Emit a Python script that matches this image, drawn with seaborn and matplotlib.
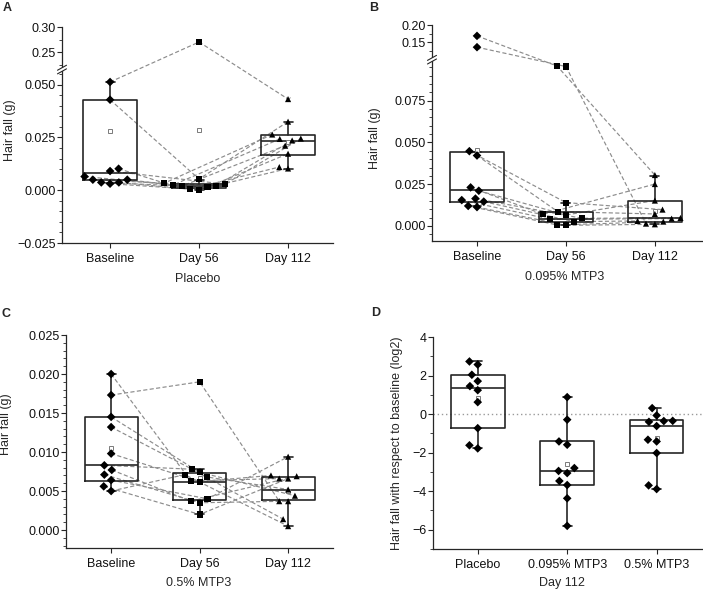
import matplotlib
matplotlib.use("Agg")
import matplotlib.pyplot as plt
import matplotlib.ticker as mticker
from matplotlib.patches import Rectangle
import numpy as np
import pandas as pd
import seaborn as sns

# ---- data ----
visits = ["Baseline", "Day 56", "Day 112"]
groups = ["Placebo", "0.095% MTP3", "0.5% MTP3"]

# hair fall (g) per subject, same subject order in every visit
placebo_base = [0.0513, 0.0429, 0.0102, 0.0091, 0.0065, 0.0050, 0.0050, 0.0037, 0.0037, 0.0031]
placebo_d56 = [0.2700, 0.0053, 0.0034, 0.0029, 0.0025, 0.0022, 0.0020, 0.0015, 0.0005, 0.0003]
placebo_d112 = [0.0432, 0.0325, 0.0264, 0.0245, 0.0243, 0.0236, 0.0211, 0.0173, 0.0110, 0.0103]

low_base = [0.1686, 0.1360, 0.0448, 0.0422, 0.0231, 0.0211, 0.0164, 0.0155, 0.0146, 0.0120, 0.0113]
low_d56 = [0.0958, 0.0955, 0.0140, 0.0086, 0.0070, 0.0066, 0.0046, 0.0040, 0.0026, 0.0006, 0.0004]
low_d112 = [0.0305, 0.0014, 0.0098, 0.0072, 0.0251, 0.0152, 0.0048, 0.0044, 0.0030, 0.0026, 0.0010]

high_base = [0.0200, 0.0173, 0.0145, 0.0132, 0.0098, 0.0083, 0.0077, 0.0071, 0.0064, 0.0056, 0.0050]
high_d56 = [0.0063, 0.0190, 0.0074, 0.0068, 0.0062, 0.0078, 0.0037, 0.0035, 0.0040, 0.0020, 0.0071]
high_d112 = [0.0066, 0.0037, 0.0044, 0.0052, 0.0070, 0.0014, 0.0069, 0.0037, 0.0094, 0.0066, 0.0005]

# log2 change vs baseline at day 112
d112_placebo = [2.73, 2.57, 2.04, 1.71, 1.45, 1.24, 0.62, -0.73, -1.62, -1.78]
d112_low = [0.88, -0.29, -1.42, -1.59, -2.80, -2.95, -3.06, -3.47, -3.68, -4.37, -5.80]
d112_high = [0.31, -0.07, -0.35, -0.36, -0.40, -0.62, -1.33, -1.42, -2.02, -3.70, -3.89]

# box summaries: whisker low, q1, median, q3, whisker high, mean
placebo_box = [[0.0035, 0.0050, 0.0080, 0.0429, 0.0513, 0.0282],
               [0.0003, 0.0013, 0.0021, 0.0031, 0.0050, 0.0287],
               [0.0103, 0.0168, 0.0235, 0.0262, 0.0322, 0.0228]]
placebo_out = [[], [0.2700], [0.0432]]
low_box = [[0.0119, 0.0145, 0.0215, 0.0446, 0.0446, 0.0456],
           [0.0004, 0.0026, 0.0044, 0.0083, 0.0139, 0.0140],
           [0.0010, 0.0026, 0.0046, 0.0151, 0.0301, 0.0090]]
low_out = [[0.1686, 0.1360], [0.0958, 0.0955], []]
high_box = [[0.0050, 0.0063, 0.0083, 0.0145, 0.0200, 0.0105],
            [0.0021, 0.0038, 0.0062, 0.0073, 0.0078, 0.0067],
            [0.0005, 0.0038, 0.0051, 0.0068, 0.0094, 0.0050]]
high_out = [[], [0.0190], []]
d112_box = [[-1.78, -0.73, 1.33, 2.04, 2.73, 0.81],
            [-5.80, -3.66, -2.94, -1.41, 0.88, -2.59],
            [-3.89, -2.02, -0.60, -0.33, 0.31, -1.26]]
d112_out = [[], [], []]

# ---- style ----
sns.set_style("ticks")
plt.rcParams["font.family"] = ["Liberation Sans", "DejaVu Sans"]
plt.rcParams["font.size"] = 9

INK = "#262626"
LINK = "#8c8c8c"
W, H = 703, 591
# invisible edge widens the swarm spacing without growing the markers
SWARM = dict(color="black", size=4.4, linewidth=1.7, edgecolor="none", zorder=3)


def broken_scale(b0, b1, gap, k):
    """Piecewise linear y scale: values above b1 are squeezed by k."""
    xp = np.array([-10.0, b0, b1, 10.0])
    fp = np.array([-10.0, b0, b0 + gap, b0 + gap + (10.0 - b1) * k])
    return (lambda v: np.interp(v, xp, fp)), (lambda v: np.interp(v, fp, xp))


def draw_boxes(ax, boxes, outliers):
    stats = []
    for (lo, q1, med, q3, hi, mean), fl in zip(boxes, outliers):
        stats.append(dict(whislo=lo, q1=q1, med=med, q3=q3, whishi=hi, mean=mean, fliers=fl))
    line = dict(color=INK, linewidth=1.2)
    ax.bxp(stats, positions=range(len(stats)), widths=0.6, capwidths=0.1,
           showmeans=True, manage_ticks=False, zorder=2,
           boxprops=line, whiskerprops=line, capprops=line, medianprops=line,
           meanprops=dict(marker="s", markersize=3, markerfacecolor="white",
                          markeredgecolor="#7a7a7a", markeredgewidth=0.7),
           flierprops=dict(marker="x", markersize=3.5, markeredgecolor="#8a8a8a",
                           markeredgewidth=0.7))


def swarm(ax, cat, order, values, marker):
    df = pd.DataFrame({"cat": cat, "val": values})
    before = list(ax.collections)
    sns.swarmplot(data=df, x="cat", y="val", order=order, marker=marker, ax=ax, **SWARM)
    # seaborn may add empty collections for the other categories
    new = [c for c in ax.collections if c not in before and len(c.get_offsets()) == len(values)]
    return new[0]


def style_axes(ax, xlim, ylim, majors, ticklabels, minors):
    ax.set_xlim(*xlim)
    ax.set_ylim(*ylim)
    ax.yaxis.set_major_locator(mticker.FixedLocator(majors))
    ax.yaxis.set_major_formatter(mticker.FixedFormatter(ticklabels))
    ax.yaxis.set_minor_locator(mticker.FixedLocator(minors))
    sns.despine(ax=ax)
    for side in ["left", "bottom"]:
        ax.spines[side].set_color(INK)
        ax.spines[side].set_linewidth(0.9)
    ax.tick_params(which="major", direction="out", length=3.5, width=0.8,
                   color=INK, labelsize=9, labelcolor="#111111")
    ax.tick_params(axis="y", which="minor", direction="out", length=2,
                   width=0.6, color=INK)
    ax.tick_params(axis="y", which="major", pad=1)
    ax.tick_params(axis="x", which="major", pad=3.5)


def mark_break(ax, y_low, y_high):
    to_axes = ax.transAxes.inverted()
    f0 = to_axes.transform(ax.transData.transform((0, y_low)))[1]
    f1 = to_axes.transform(ax.transData.transform((0, y_high)))[1]
    mid = (f0 + f1) / 2
    w, h = ax.bbox.width, ax.bbox.height
    ax.add_patch(Rectangle((-4 / w, mid - 1.8 / h), 8 / w, 3.6 / h, transform=ax.transAxes,
                           facecolor="white", edgecolor="none", clip_on=False, zorder=5))
    for f in (mid - 1.8 / h, mid + 1.8 / h):
        ax.plot([-4.5 / w, 4.5 / w], [f - 2.5 / h, f + 2.5 / h], transform=ax.transAxes,
                color=INK, lw=0.8, clip_on=False, zorder=6)


def set_labels(ax, xlabel, ylabel, xpos, ypos):
    ax.set_xlabel(xlabel, fontsize=9)
    ax.set_ylabel(ylabel, fontsize=9)
    ax.xaxis.set_label_coords(*xpos)
    ax.yaxis.set_label_coords(*ypos)


fig = plt.figure(figsize=(W / 100, H / 100), dpi=100)


def place(l, t, r, b):
    return fig.add_axes([l / W, 1 - b / H, (r - l) / W, (b - t) / H])


ax_a = place(62, 27, 333, 243)
ax_b = place(432, 25, 702, 241)
ax_c = place(66, 335, 333, 548)
ax_d = place(433, 337, 702, 549)

markers = ["D", "s", "^"]

# A: placebo, broken y axis
ax_a.set_yscale("function", functions=broken_scale(0.056, 0.22, 0.0024, 0.237))
coll_a = [swarm(ax_a, v, visits, s, m) for v, s, m in
          zip(visits, [placebo_base, placebo_d56, placebo_d112], markers)]
draw_boxes(ax_a, placebo_box, placebo_out)
style_axes(ax_a, (-0.54, 2.505), (-0.025, 0.30),
           [-0.025, 0.0, 0.025, 0.05, 0.25, 0.30],
           ["\u22120.025", "0.000", "0.025", "0.050", "0.25", "0.30"],
           list(np.arange(-0.025, 0.056, 0.005)) + [0.225, 0.275])
mark_break(ax_a, 0.056, 0.22)
set_labels(ax_a, "Placebo", "Hair fall (g)", (0.502, -0.139), (-0.17, 0.52))

# B: 0.095% MTP3, broken y axis
ax_b.set_yscale("function", functions=broken_scale(0.0994, 0.1009, 0.0004, 0.2076))
coll_b = [swarm(ax_b, v, visits, s, m) for v, s, m in
          zip(visits, [low_base, low_d56, low_d112], markers)]
draw_boxes(ax_b, low_box, low_out)
style_axes(ax_b, (-0.506, 2.53), (-0.009, 0.20),
           [0.0, 0.025, 0.05, 0.075, 0.15, 0.20],
           ["0.000", "0.025", "0.050", "0.075", "0.15", "0.20"],
           list(np.arange(-0.005, 0.0995, 0.005)) + [0.125, 0.175])
mark_break(ax_b, 0.0994, 0.1009)
set_labels(ax_b, "0.095% MTP3", "Hair fall (g)", (0.49, -0.139), (-0.188, 0.477))

# C: 0.5% MTP3
coll_c = [swarm(ax_c, v, visits, s, m) for v, s, m in
          zip(visits, [high_base, high_d56, high_d112], markers)]
draw_boxes(ax_c, high_box, high_out)
style_axes(ax_c, (-0.51, 2.507), (-0.0023, 0.025),
           [0.0, 0.005, 0.01, 0.015, 0.02, 0.025],
           ["0.000", "0.005", "0.010", "0.015", "0.020", "0.025"],
           list(np.arange(-0.002, 0.0251, 0.001)))
set_labels(ax_c, "0.5% MTP3", "Hair fall (g)", (0.498, -0.136), (-0.202, 0.58))

# D: log2 change at day 112
df_d = pd.DataFrame({
    "group": np.repeat(groups, [len(d112_placebo), len(d112_low), len(d112_high)]),
    "log2": d112_placebo + d112_low + d112_high,
})
sns.swarmplot(data=df_d, x="group", y="log2", order=groups, marker="D", ax=ax_d, **SWARM)
draw_boxes(ax_d, d112_box, d112_out)
ax_d.axhline(0, color="#9a9a9a", ls=(0, (1, 2)), lw=1, zorder=0)
style_axes(ax_d, (-0.50, 2.507), (-7, 4),
           [-6, -4, -2, 0, 2, 4],
           ["\u22126", "\u22124", "\u22122", "0", "2", "4"],
           [-7, -5, -3, -1, 1, 3])
set_labels(ax_d, "Day 112", "Hair fall with respect to baseline (log2)",
           (0.48, -0.132), (-0.111, 0.5))

for letter, x, y in [("A", 3, 2), ("B", 369, 2), ("C", 2, 308), ("D", 371, 307)]:
    fig.text(x / W, 1 - y / H, letter, fontsize=9, fontweight="bold", va="top", ha="left")

# swarm positions are settled at draw time; then link each subject's visits
fig.canvas.draw()
for ax, colls in [(ax_a, coll_a), (ax_b, coll_b), (ax_c, coll_c)]:
    pos = [np.asarray(c.get_offsets()) for c in colls]
    for i in range(len(pos[0])):
        xs = [p[i, 0] for p in pos]
        ys = [p[i, 1] for p in pos]
        ax.plot(xs, ys, color=LINK, lw=0.85, ls=(0, (3.5, 2)), zorder=1)

fig.savefig("out.png", dpi=100)
